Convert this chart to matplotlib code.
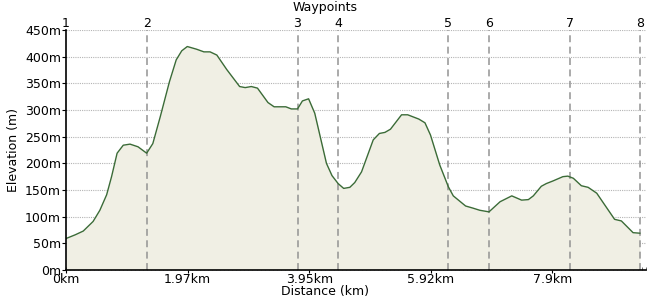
"""
plot.py — Walk elevation profile with waypoint markers.
"""

import numpy as np
import matplotlib
matplotlib.use("Agg")
import matplotlib.pyplot as plt
from matplotlib.ticker import FixedLocator, MultipleLocator
from matplotlib.transforms import blended_transform_factory

# Profile (distance in km, elevation in m)
dist_km = [0.00, 0.15, 0.28, 0.44, 0.55, 0.66, 0.74, 0.83, 0.93, 1.04,
           1.17, 1.31, 1.41, 1.53, 1.68, 1.79, 1.88, 1.97, 2.12, 2.24,
           2.34, 2.45, 2.61, 2.82, 2.91, 3.01, 3.11, 3.28, 3.38, 3.57,
           3.66, 3.76, 3.84, 3.94, 4.04, 4.23, 4.32, 4.42, 4.51, 4.61,
           4.69, 4.80, 4.99, 5.09, 5.18, 5.27, 5.45, 5.55, 5.73, 5.83,
           5.92, 6.07, 6.21, 6.29, 6.49, 6.61, 6.72, 6.87, 7.05, 7.24,
           7.40, 7.51, 7.59, 7.72, 7.80, 7.91, 8.07, 8.15, 8.24, 8.37,
           8.48, 8.62, 8.75, 8.91, 9.02, 9.21, 9.32]
elev_m = [59, 66, 73, 91, 112, 141, 175, 219, 234, 236,
          231, 219, 237, 287, 353, 394, 411, 419, 414, 409,
          409, 403, 376, 344, 342, 344, 341, 314, 306, 306,
          302, 302, 317, 321, 294, 200, 177, 162, 153, 155,
          164, 184, 244, 256, 258, 264, 291, 291, 283, 276,
          253, 197, 156, 139, 120, 116, 112, 109, 128, 139,
          131, 132, 139, 157, 162, 167, 175, 176, 172, 158,
          155, 144, 122, 95, 92, 70, 69]

# Waypoints
waypoint_km = [0.0, 1.31, 3.76, 4.42, 6.21, 6.87, 8.18, 9.32]
waypoint_labels = ["1", "2", "3", "4", "5", "6", "7", "8"]

# Axis ticks
x_ticks = [0.0, 1.975, 3.95, 5.925, 7.9]
x_tick_labels = ["0km", "1.97km", "3.95km", "5.92km", "7.9km"]
y_ticks = [0, 50, 100, 150, 200, 250, 300, 350, 400, 450]
y_tick_labels = [f"{v}m" for v in y_ticks]


def main():
    plt.rcParams["font.family"] = ["DejaVu Sans"]
    plt.rcParams["font.size"] = 9
    plt.rcParams["lines.scale_dashes"] = False

    fig = plt.figure(figsize=(6.5, 3.0), dpi=100)
    ax = fig.add_axes([66 / 650, 30 / 300, 580 / 650, 240 / 300])

    x = np.array(dist_km)
    y = np.array(elev_m)

    # Dotted horizontal grid
    for v in y_ticks[1:]:
        ax.axhline(v, color="#b4b4b4", lw=0.8, ls=(0, (0.8, 0.8)), zorder=1)

    ax.fill_between(x, 0, y, color="#f0efe4", lw=0, zorder=2)
    ax.plot(x, y, color="#3b6b37", lw=1.0, zorder=4)

    # Waypoint dashed lines and numbers
    trans = blended_transform_factory(ax.transData, ax.transAxes)
    for wx, lab in zip(waypoint_km, waypoint_labels):
        if wx > 0:
            ax.axvline(wx, color="#939393", lw=1.1, ls=(0, (5.0, 3.2)), zorder=3)
        ax.text(wx, 1.0, lab, transform=trans, ha="center", va="bottom",
                fontsize=9, color="black")

    ax.set_xlim(0, 9.42)
    ax.set_ylim(0, 450)

    ax.xaxis.set_major_locator(FixedLocator(x_ticks))
    ax.set_xticklabels(x_tick_labels)
    ax.xaxis.set_minor_locator(MultipleLocator(1.975 / 30))
    ax.tick_params(axis="x", which="major", direction="inout", length=4,
                   width=0.8, pad=0, labelsize=9)
    ax.tick_params(axis="x", which="minor", direction="in", length=2,
                   width=0.6, color="#555555")

    ax.yaxis.set_major_locator(FixedLocator(y_ticks))
    ax.set_yticklabels(y_tick_labels)
    ax.tick_params(axis="y", which="major", direction="out", length=3,
                   width=0.8, pad=0.5, labelsize=9)

    for side in ("top", "right"):
        ax.spines[side].set_visible(False)
    ax.spines["left"].set_linewidth(1.2)
    ax.spines["bottom"].set_linewidth(1.2)
    ax.spines["left"].set_zorder(5)
    ax.spines["bottom"].set_zorder(5)

    fig.text(325 / 650, 1 - 8 / 300, "Waypoints", ha="center", va="center", fontsize=9)
    fig.text(325 / 650, 1 - 291 / 300, "Distance (km)", ha="center", va="center", fontsize=9)
    fig.text(14 / 650, 0.5, "Elevation (m)", ha="center", va="center",
             rotation=90, fontsize=9)

    fig.savefig("out.png", dpi=100)
    plt.close(fig)


if __name__ == "__main__":
    main()
